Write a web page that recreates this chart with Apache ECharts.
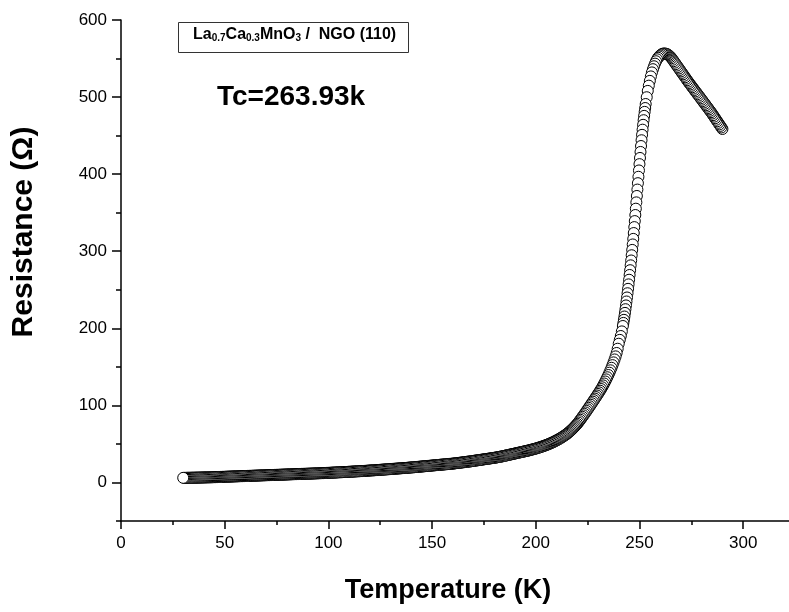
<!DOCTYPE html>
<html>
<head>
<meta charset="utf-8">
<script src="https://cdn.jsdelivr.net/npm/echarts@6/dist/echarts.min.js"></script>
<style>html,body{margin:0;padding:0;background:#fff}#chart{width:789px;height:612px}</style>
</head>
<body>
<div id="chart"></div>
<script>
// ---- Data (Temperature K, Resistance Ohm) ----
const lowT = [
[30,6.0],[31,6.0],[32,6.1],[33,6.1],[34,6.2],[35,6.2],[36,6.3],[37,6.3],[38,6.4],[39,6.4],[40,6.5],
[41,6.6],[42,6.6],[43,6.7],[44,6.8],[45,6.9],[46,7.0],[47,7.1],[48,7.2],[49,7.3],[50,7.4],
[51,7.5],[52,7.6],[53,7.7],[54,7.8],[55,7.9],[56,8.0],[57,8.1],[58,8.2],[59,8.3],[60,8.4],
[61,8.5],[62,8.6],[63,8.7],[64,8.8],[65,8.9],[66,9.0],[67,9.1],[68,9.2],[69,9.3],[70,9.4],
[71,9.5],[72,9.6],[73,9.7],[74,9.8],[75,9.9],[76,10.0],[77,10.1],[78,10.2],[79,10.3],[80,10.4],
[81,10.5],[82,10.6],[83,10.7],[84,10.8],[85,10.9],[86,11.0],[87,11.1],[88,11.2],[89,11.3],[90,11.4],
[91,11.5],[92,11.6],[93,11.7],[94,11.8],[95,11.9],[96,12.0],[97,12.1],[98,12.2],[99,12.4],[100,12.5],
[101,12.6],[102,12.8],[103,12.9],[104,13.0],[105,13.2],[106,13.3],[107,13.4],[108,13.6],[109,13.7],[110,13.9],
[111,14.0],[112,14.2],[113,14.3],[114,14.5],[115,14.6],[116,14.8],[117,14.9],[118,15.1],[119,15.3],[120,15.5],
[121,15.7],[122,15.8],[123,16.0],[124,16.2],[125,16.4],[126,16.6],[127,16.8],[128,17.0],[129,17.2],[130,17.4],
[131,17.6],[132,17.8],[133,18.0],[134,18.2],[135,18.4],[136,18.6],[137,18.8],[138,19.0],[139,19.3],[140,19.5],
[141,19.7],[142,20.0],[143,20.2],[144,20.5],[145,20.7],[146,21.0],[147,21.2],[148,21.5],[149,21.7],[150,22.0],
[151,22.2],[152,22.5],[153,22.7],[154,23.0],[155,23.2],[156,23.5],[157,23.7],[158,24.0],[159,24.2],[160,24.5],
[161,24.8],[162,25.2],[163,25.5],[164,25.8],[165,26.2],[166,26.5],[167,26.9],[168,27.2],[169,27.6],[170,28.0],
[171,28.4],[172,28.8],[173,29.2],[174,29.6],[175,30.0],[176,30.4],[177,30.8],[178,31.2],[179,31.6],[180,32.0],
[181,32.5],[182,33.0],[183,33.5],[184,34.0],[185,34.6],[186,35.2],[187,35.8],[188,36.4],[189,37.0],[190,37.6],
[191,38.2],[192,38.8],[193,39.4],[194,40.0],[195,40.6],[196,41.2],[197,41.9],[198,42.6],[199,43.3],[200,44.0],
[201,44.8],[202,45.7],[203,46.6],[204,47.5],[205,48.5],[206,49.6],[207,50.7],[208,51.9],[209,53.2],[210,54.6],
[211,56.0],[212,57.6],[213,59.3],[214,61.1],[215,63.0],[216,65.2],[217,67.6],[218,70.2],[219,73.0]
];
const lowTHalf = [
[30.5,6.0],[31.5,6.0],[32.5,6.1],[33.5,6.1],[34.5,6.2],[35.5,6.2],[36.5,6.3],[37.5,6.3],[38.5,6.4],[39.5,6.5],
[40.5,6.5],[41.5,6.6],[42.5,6.7],[43.5,6.7],[44.5,6.8],[45.5,6.9],[46.5,7.0],[47.5,7.1],[48.5,7.2],[49.5,7.3],
[50.5,7.4],[51.5,7.5],[52.5,7.6],[53.5,7.7],[54.5,7.8],[55.5,7.9],[56.5,8.0],[57.5,8.1],[58.5,8.2],[59.5,8.3],
[60.5,8.4],[61.5,8.5],[62.5,8.6],[63.5,8.7],[64.5,8.8],[65.5,8.9],[66.5,9.0],[67.5,9.1],[68.5,9.2],[69.5,9.3],
[70.5,9.4],[71.5,9.5],[72.5,9.6],[73.5,9.7],[74.5,9.8],[75.5,9.9],[76.5,10.0],[77.5,10.1],[78.5,10.2],[79.5,10.3],
[80.5,10.4],[81.5,10.5],[82.5,10.6],[83.5,10.7],[84.5,10.8],[85.5,10.9],[86.5,11.0],[87.5,11.1],[88.5,11.2],[89.5,11.3],
[90.5,11.4],[91.5,11.5],[92.5,11.6],[93.5,11.7],[94.5,11.8],[95.5,11.9],[96.5,12.0],[97.5,12.1],[98.5,12.3],[99.5,12.4],
[100.5,12.5],[101.5,12.7],[102.5,12.8],[103.5,12.9],[104.5,13.1],[105.5,13.2],[106.5,13.3],[107.5,13.5],[108.5,13.6],[109.5,13.8],
[110.5,13.9],[111.5,14.1],[112.5,14.2],[113.5,14.4],[114.5,14.5],[115.5,14.7],[116.5,14.8],[117.5,15.0],[118.5,15.2],[119.5,15.4],
[120.5,15.6],[121.5,15.7],[122.5,15.9],[123.5,16.1],[124.5,16.3],[125.5,16.5],[126.5,16.7],[127.5,16.9],[128.5,17.1],[129.5,17.3],
[130.5,17.5],[131.5,17.7],[132.5,17.9],[133.5,18.1],[134.5,18.3],[135.5,18.5],[136.5,18.7],[137.5,18.9],[138.5,19.1],[139.5,19.4],
[140.5,19.6],[141.5,19.8],[142.5,20.1],[143.5,20.3],[144.5,20.6],[145.5,20.8],[146.5,21.1],[147.5,21.3],[148.5,21.6],[149.5,21.8],
[150.5,22.1],[151.5,22.3],[152.5,22.6],[153.5,22.8],[154.5,23.1],[155.5,23.3],[156.5,23.6],[157.5,23.8],[158.5,24.1],[159.5,24.3],
[160.5,24.6],[161.5,25.0],[162.5,25.3],[163.5,25.6],[164.5,26.0],[165.5,26.3],[166.5,26.7],[167.5,27.0],[168.5,27.4],[169.5,27.8],
[170.5,28.2],[171.5,28.6],[172.5,29.0],[173.5,29.4],[174.5,29.8],[175.5,30.2],[176.5,30.6],[177.5,31.0],[178.5,31.4],[179.5,31.8],
[180.5,32.2],[181.5,32.7],[182.5,33.2],[183.5,33.7],[184.5,34.3],[185.5,34.9],[186.5,35.5],[187.5,36.1],[188.5,36.7],[189.5,37.3],
[190.5,37.9],[191.5,38.5],[192.5,39.1],[193.5,39.7],[194.5,40.3],[195.5,40.9],[196.5,41.5],[197.5,42.2],[198.5,42.9],[199.5,43.6],
[200.5,44.4],[201.5,45.2],[202.5,46.1],[203.5,47.0],[204.5,48.0],[205.5,49.0],[206.5,50.1],[207.5,51.3],[208.5,52.5],[209.5,53.9],
[210.5,55.3],[211.5,56.8],[212.5,58.4],[213.5,60.2],[214.5,62.0],[215.5,64.1],[216.5,66.4],[217.5,68.9],[218.5,71.6],[219.5,74.5]
];
const onsetT = [
[220,76.0],[220.5,77.7],[221,79.5],[221.5,81.3],[222,83.2],[222.5,85.1],[223,87.0],[223.5,88.9],
[224,90.8],[224.5,92.8],[225,94.8],[225.5,96.8],[226,98.8],[226.5,100.8],[227,102.8],[227.5,104.8],
[228,106.8],[228.5,108.8],[229,110.8],[229.5,112.8],[230,114.8],[230.5,116.9],[231,119.0],[231.5,121.2],
[232,123.5],[232.5,125.9],[233,128.4],[233.5,131.0],[234,133.7],[234.5,136.5],[235,139.4],[235.5,142.4],
[236,145.5],[236.5,148.8],[237,152.2],[237.5,155.8],[238,159.6],[238.5,163.6],[239,168.0],[239.5,173.5],
[240,180.0],[240.5,185.0],[241,190.0],[241.5,196.0],[242,203.0]
];
const steepT = [
[242.25,207.0],[242.5,211.0],[242.75,215.3],[243,220.0],[243.25,224.8],[243.5,229.7],[243.75,234.8],
[244,240.0],[244.25,245.5],[244.5,251.2],[244.75,257.0],[245,263.0],[245.25,269.2],[245.5,275.4],
[245.75,281.7],[246,288.0],[246.25,294.8],[246.5,301.7],[246.75,308.8],[247,316.0],[247.25,323.6],
[247.5,331.3],[247.75,339.1],[248,347.0],[248.25,355.2],[248.5,363.4],[248.75,371.7],[249,380.0],
[249.25,388.3],[249.5,396.6],[249.75,404.8],[250,413.0],[250.25,421.0],[250.5,428.8],[250.75,436.5],
[251,444.0],[251.25,451.0],[251.5,457.7],[251.75,464.0],[252,470.0],[252.25,475.6],[252.5,480.8],
[252.75,485.8],[253,491.0]
];
const peakT = [
[253.5,499.8],[254,508.0],[254.5,514.8],[255,521.0],[255.5,526.8],[256,532.0],[256.5,536.2],[257,540.0],
[257.5,543.4],[258,546.5],[258.5,549.0],[259,551.0],[259.5,552.7],[260,554.0],[260.5,555.2],[261,556.0],
[261.5,556.4],[262,556.5]
];
const highT = [
[262.5,556.4],[263,556.0],[263.5,555.4],[264,554.5],[264.5,553.4],[265,552.0],[265.5,550.4],[266,548.5],
[266.5,546.6],[267,544.7],[267.5,542.8],[268,540.9],[268.5,539.0],[269,537.1],[269.5,535.2],[270,533.3],
[270.5,531.4],[271,529.5],[271.5,527.6],[272,525.7],[272.5,523.8],[273,521.9],[273.5,520.0],[274,518.2],
[274.5,516.4],[275,514.6],[275.5,512.8],[276,511.0],[276.5,509.2],[277,507.4],[277.5,505.6],[278,503.8],
[278.5,502.0],[279,500.2],[279.5,498.4],[280,496.6],[280.5,494.8],[281,493.0],[281.5,491.2],[282,489.4],
[282.5,487.6],[283,485.8],[283.5,484.0],[284,482.2],[284.5,480.4],[285,478.6],[285.5,476.6],[286,474.6],
[286.5,472.6],[287,470.6],[287.5,468.6],[288,466.6],[288.5,464.6],[289,462.6],[289.5,460.6],[290,458.6]
];
const xMajorTicks = [0, 50, 100, 150, 200, 250, 300];
const xMinorTicks = [25, 75, 125, 175, 225, 275];
const yMajorTicks = [0, 100, 200, 300, 400, 500, 600];
const yMinorTicks = [-50, 50, 150, 250, 350, 450, 550];
const sampleName = ['La','0.7','Ca','0.3','MnO','3',' /  NGO (110)'];
const tcLabel = 'Tc=263.93k';
const xTitle = 'Temperature (K)';
const yTitle = 'Resistance (\u03A9)';

// measured on cooling: drawn from high T to low T, so low-T circles lie on top
const allPoints = [].concat(lowT, lowTHalf, onsetT, steepT, peakT, highT)
  .sort((a, b) => b[0] - a[0]);

const FONT = "'Liberation Sans', Arial, Helvetica, sans-serif";
const chart = echarts.init(document.getElementById('chart'), null, {renderer: 'canvas'});

const blk = {color: '#000', width: 1.5};
const option = {
  backgroundColor: '#fff',
  animation: false,
  grid: [{left: 121, top: 20, right: 0, bottom: 91, containLabel: false}],
  xAxis: [
    {
      type: 'value', min: 0, max: 322.1, position: 'bottom',
      axisLine: {show: true, onZero: false, lineStyle: blk},
      axisTick: {show: true, length: 8, lineStyle: blk, customValues: xMajorTicks},
      splitLine: {show: false},
      axisLabel: {color: '#000', fontSize: 17, fontFamily: FONT, margin: 14, customValues: xMajorTicks}
    },
    {
      type: 'value', min: 0, max: 322.1, position: 'bottom', offset: 0,
      axisLine: {show: false, onZero: false},
      axisTick: {show: true, length: 4, lineStyle: blk, customValues: xMinorTicks},
      splitLine: {show: false},
      axisLabel: {show: false}
    }
  ],
  yAxis: [
    {
      type: 'value', min: -50, max: 600, position: 'left',
      axisLine: {show: true, onZero: false, lineStyle: blk},
      axisTick: {show: true, length: 9, lineStyle: blk, customValues: yMajorTicks},
      splitLine: {show: false},
      axisLabel: {color: '#000', fontSize: 17, fontFamily: FONT, margin: 14, customValues: yMajorTicks}
    },
    {
      type: 'value', min: -50, max: 600, position: 'left', offset: 0,
      axisLine: {show: false, onZero: false},
      axisTick: {show: true, length: 5, lineStyle: blk, customValues: yMinorTicks},
      splitLine: {show: false},
      axisLabel: {show: false}
    }
  ],
  series: [{
    type: 'scatter', xAxisIndex: 0, yAxisIndex: 0,
    data: allPoints,
    symbol: 'circle', symbolSize: 11,
    itemStyle: {color: '#fff', borderColor: '#000', borderWidth: 1, opacity: 1},
    emphasis: {disabled: true}
  }],
  graphic: [
    {type: 'rect', shape: {x: 178.5, y: 22.5, width: 230, height: 30},
     style: {fill: '#fff', stroke: '#333', lineWidth: 1}},
    {type: 'text', left: 193, top: 27,
     style: {
       text: '{b|' + sampleName[0] + '}{s|' + sampleName[1] + '}{b|' + sampleName[2] + '}{s|' + sampleName[3] +
             '}{b|' + sampleName[4] + '}{s|' + sampleName[5] + '}{b|' + sampleName[6] + '}',
       rich: {
         b: {fontSize: 16, fontWeight: 'bold', fontFamily: FONT, fill: '#000', verticalAlign: 'bottom'},
         s: {fontSize: 10, fontWeight: 'bold', fontFamily: FONT, fill: '#000', verticalAlign: 'bottom'}
       }
     }},
    {type: 'text', left: 217, top: 83,
     style: {text: tcLabel, fontSize: 28, fontWeight: 'bold', fontFamily: FONT, fill: '#000'}},
    {type: 'text', x: 448, y: 591,
     style: {text: xTitle, fontSize: 27, fontWeight: 'bold', fontFamily: FONT, fill: '#000',
             align: 'center', verticalAlign: 'middle'}},
    {type: 'text', x: 24, y: 232, rotation: Math.PI / 2,
     style: {text: yTitle, fontSize: 30, fontWeight: 'bold', fontFamily: FONT, fill: '#000',
             align: 'center', verticalAlign: 'middle'}}
  ]
};
chart.setOption(option);
</script>
</body>
</html>
